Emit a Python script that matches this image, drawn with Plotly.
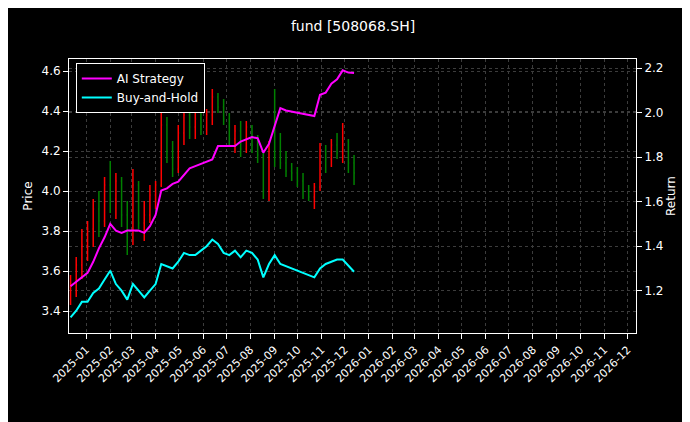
import pandas as pd
import plotly.graph_objects as go

dates = pd.date_range("2024-12-12", "2025-12-13", periods=51)

opens = [3.52,3.54,3.63,3.73,3.81,3.91,3.85,4.03,3.96,4.05,3.88,3.77,4.03,3.84,3.88,3.98,
         4.03,4.33,4.20,4.11,4.29,4.38,4.32,4.36,4.31,4.38,4.47,4.42,4.36,4.26,4.30,4.21,
         4.32,4.23,4.18,4.00,4.20,4.18,4.14,4.10,4.09,4.05,4.00,3.97,4.02,4.20,4.16,4.23,
         4.19,4.25,4.14]
highs = [3.58,3.67,3.81,3.85,3.96,4.00,4.07,4.15,4.09,4.07,3.95,4.11,4.05,3.95,4.03,4.05,
         4.40,4.37,4.25,4.33,4.42,4.44,4.41,4.39,4.41,4.51,4.49,4.46,4.39,4.33,4.35,4.35,
         4.33,4.28,4.20,4.25,4.51,4.29,4.20,4.14,4.12,4.09,4.03,4.04,4.24,4.23,4.26,4.29,
         4.34,4.26,4.18]
lows = [3.43,3.47,3.56,3.65,3.72,3.77,3.82,3.89,3.86,3.82,3.68,3.73,3.81,3.75,3.84,3.91,
        4.02,4.14,4.07,4.09,4.23,4.26,4.26,4.28,4.28,4.33,4.39,4.33,4.23,4.19,4.17,4.19,
        4.19,4.14,3.96,3.95,4.12,4.11,4.07,4.05,4.02,3.96,3.95,3.91,4.00,4.09,4.12,4.16,
        4.14,4.09,4.03]
closes = [3.54,3.63,3.73,3.81,3.91,3.85,4.03,3.96,4.05,3.88,3.77,4.03,3.84,3.88,3.98,4.03,
          4.33,4.20,4.11,4.29,4.38,4.32,4.36,4.31,4.38,4.47,4.42,4.36,4.26,4.30,4.21,4.32,
          4.23,4.18,4.00,4.20,4.18,4.14,4.10,4.09,4.05,4.00,3.97,4.02,4.20,4.16,4.23,4.19,
          4.25,4.14,4.09]

ai_strategy = [1.22,1.24,1.26,1.28,1.33,1.39,1.44,1.50,1.47,1.46,1.47,1.47,1.47,1.46,1.49,1.54,
               1.65,1.66,1.68,1.69,1.72,1.75,1.76,1.77,1.78,1.79,1.85,1.85,1.85,1.85,1.87,1.88,
               1.89,1.885,1.82,1.86,1.94,2.02,2.01,2.005,2.00,1.995,1.99,1.985,2.08,2.09,2.13,2.15,
               2.19,2.18,2.178]
buy_hold = [1.08,1.11,1.15,1.15,1.19,1.21,1.25,1.29,1.23,1.20,1.16,1.23,1.20,1.17,1.20,1.23,
            1.32,1.31,1.30,1.33,1.37,1.36,1.36,1.38,1.40,1.43,1.41,1.37,1.36,1.38,1.35,1.38,
            1.37,1.34,1.26,1.32,1.36,1.32,1.31,1.30,1.29,1.28,1.27,1.26,1.30,1.32,1.33,1.34,
            1.34,1.31,1.285]

month_ticks = pd.date_range("2025-01-01", "2026-12-01", freq="MS")
tick_text = [d.strftime("%Y-%m") for d in month_ticks]

fig = go.Figure()
fig.add_trace(go.Ohlc(
    x=dates, open=opens, high=highs, low=lows, close=closes,
    increasing=dict(line=dict(color="red", width=1.5)),
    decreasing=dict(line=dict(color="green", width=1.5)),
    tickwidth=0.15, showlegend=False, yaxis="y"))
fig.add_trace(go.Scatter(x=dates, y=ai_strategy, name="AI Strategy", mode="lines",
                         line=dict(color="#ff00ff", width=2), yaxis="y2"))
fig.add_trace(go.Scatter(x=dates, y=buy_hold, name="Buy-and-Hold", mode="lines",
                         line=dict(color="#00ffff", width=2), yaxis="y2"))

grid = dict(showgrid=True, gridcolor="#3c3c3c", griddash="dot", gridwidth=1)
fig.update_layout(
    width=690, height=422, paper_bgcolor="black", plot_bgcolor="black",
    font=dict(family="DejaVu Sans", color="white", size=12),
    margin=dict(l=61, r=62, t=51, b=97),
    title=dict(text="fund [508068.SH]", x=0.5, xanchor="center", y=0.957, yanchor="middle",
               font=dict(size=14)),
    xaxis=dict(range=["2024-12-10", "2026-12-12"], tickvals=month_ticks, ticktext=tick_text,
               tickangle=-45, rangeslider=dict(visible=False), showline=True, linecolor="white",
               mirror=True, ticks="outside", tickcolor="white", tickfont=dict(size=11), **grid),
    yaxis=dict(title=dict(text="Price", font=dict(size=12), standoff=6), range=[3.29, 4.66],
               tickvals=[3.4, 3.6, 3.8, 4.0, 4.2, 4.4, 4.6], tickformat=".1f",
               showline=True, linecolor="white", ticks="outside", tickcolor="white", **grid),
    yaxis2=dict(title=dict(text="Return", font=dict(size=12), standoff=4), overlaying="y", side="right",
                range=[1.01, 2.241], tickvals=[1.2, 1.4, 1.6, 1.8, 2.0, 2.2], tickformat=".1f",
                showline=True, linecolor="white", ticks="outside", tickcolor="white", **grid),
    legend=dict(x=0.012, y=0.985, xanchor="left", yanchor="top", bgcolor="black",
                bordercolor="white", borderwidth=1, font=dict(size=12)),
)
fig.write_html("out.html")
